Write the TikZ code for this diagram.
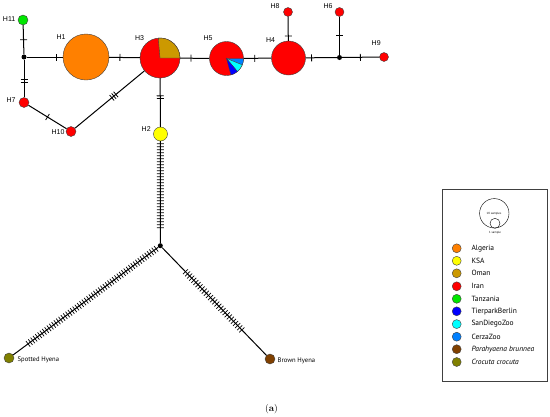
\documentclass[tikz,border=0pt]{standalone}
\usepackage{fontspec}
\newfontfamily\hfont{Liberation Sans}
\newfontfamily\lfont{PT Sans}
\usetikzlibrary{decorations.markings}
\definecolor{cAlg}{RGB}{255,128,0}
\definecolor{cKSA}{RGB}{255,255,0}
\definecolor{cOman}{RGB}{204,153,0}
\definecolor{cIran}{RGB}{255,0,0}
\definecolor{cTan}{RGB}{0,230,0}
\definecolor{cTier}{RGB}{0,0,255}
\definecolor{cSan}{RGB}{0,255,255}
\definecolor{cCer}{RGB}{0,128,255}
\definecolor{cPara}{RGB}{128,64,0}
\definecolor{cCroc}{RGB}{128,128,0}
\tikzset{
  hap/.style={circle, draw=black!75, line width=0.4pt, inner sep=0pt, minimum size=#1},
  junc/.style={circle, fill=black, inner sep=0pt, minimum size=5pt},
  edge/.style={line width=1pt, black},
  hlab/.style={font=\hfont\fontsize{7}{8}\selectfont, inner sep=0pt},
  llab/.style={font=\lfont\fontsize{6.6}{8}\selectfont, inner sep=0pt, anchor=west},
  leglab/.style={font=\lfont\fontsize{7.5}{9}\selectfont, inner sep=0pt, anchor=west},
  tk/.style={postaction={decorate}, decoration={markings, mark=at position #1 with {\draw[line width=0.8pt] (0,-3.5pt)--(0,3.5pt);}}},
  tkk/.style={postaction={decorate}, decoration={markings, mark=at position #1 with {\draw[line width=0.8pt] (-1.3pt,-3.5pt)--(-1.3pt,3.5pt) (1.3pt,-3.5pt)--(1.3pt,3.5pt);}}},
  tkkk/.style={postaction={decorate}, decoration={markings, mark=at position #1 with {\draw[line width=0.8pt] (-2.6pt,-3.5pt)--(-2.6pt,3.5pt) (0pt,-3.5pt)--(0pt,3.5pt) (2.6pt,-3.5pt)--(2.6pt,3.5pt);}}},
  tkmany/.style n args={3}{postaction={decorate}, decoration={markings, mark=between positions #1 and #2 step #3 with {\draw[line width=0.7pt] (0,-3.5pt)--(0,3.5pt);}}}
}
\begin{document}
\begin{tikzpicture}[x=1pt,y=-1pt]
\useasboundingbox (0,0) rectangle (550,416);
\fill[white] (0,0) rectangle (550,416);
% haplotype nodes
\node[hap=10pt, fill=cTan] (H11) at (23,20) {};
\node[junc] (J1) at (24,57) {};
\node[hap=46pt, fill=cAlg] (H1) at (86,57) {};
\node[hap=40pt, fill=cIran] (H3) at (160,58) {};
\node[hap=34pt, fill=cIran] (H5) at (226.5,58.5) {};
\node[hap=34pt, fill=cIran] (H4) at (288.5,58) {};
\node[hap=9pt, fill=cIran] (H8) at (288,12) {};
\node[hap=9pt, fill=cIran] (H6) at (339.5,12) {};
\node[junc] (J2) at (339.5,57.5) {};
\node[hap=9pt, fill=cIran] (H9) at (384,57) {};
\node[hap=10pt, fill=cIran] (H7) at (24,102.5) {};
\node[hap=10pt, fill=cIran] (H10) at (71,131.5) {};
\node[hap=14pt, fill=cKSA] (H2) at (160.5,134) {};
\node[junc] (J3) at (160.3,245.7) {};
\node[hap=10pt, fill=cCroc] (SH) at (9,358) {};
\node[hap=10pt, fill=cPara] (BH) at (270,359) {};
% pie wedges
\filldraw[fill=cOman, draw=black!75, line width=0.4pt] (H3.center) -- ++(0:20) arc[start angle=0, end angle=-95, radius=20] -- cycle;
\filldraw[fill=cCer, draw=black!75, line width=0.3pt] (H5.center) -- ++(0:17) arc[start angle=0, end angle=22, radius=17] -- cycle;
\filldraw[fill=cSan, draw=black!75, line width=0.3pt] (H5.center) -- ++(22:17) arc[start angle=22, end angle=50, radius=17] -- cycle;
\filldraw[fill=cTier, draw=black!75, line width=0.3pt] (H5.center) -- ++(50:17) arc[start angle=50, end angle=75, radius=17] -- cycle;
% edges
\draw[edge, tk=0.5] (H11) -- (J1);
\draw[edge, tk=0.81] (J1) -- (H1);
\draw[edge, tk=0.35] (H1) -- (H3);
\draw[edge, tk=0.37] (H3) -- (H5);
\draw[edge, tk=0.4] (H5) -- (H4);
\draw[edge, tk=0.19] (H4) -- (J2);
\draw[edge, tk=0.8] (H8) -- (H4);
\draw[edge, tk=0.48] (H6) -- (J2);
\draw[edge, tk=0.49] (J2) -- (H9);
\draw[edge, tkk=0.56] (J1) -- (H7);
\draw[edge, tk=0.5] (H7) -- (H10);
\draw[edge, tkkk=0.56] (H10) -- (H3);
\draw[edge, tkk=0.39] (H3) -- (H2);
\draw[edge, tkmany={2.5pt}{89pt}{3pt}] (H2) -- (J3);
\draw[edge, tkmany={2.5pt}{164pt}{2.9pt}] (J3) -- (SH);
\draw[edge, tkmany={33.5pt}{115pt}{3pt}] (J3) -- (BH);
% labels
\node[hlab, anchor=east] (lH11) at (15.5,19) {H11};
\node[hlab] (lH1) at (61,37.3) {H1};
\node[hlab] (lH3) at (139.5,38.3) {H3};
\node[hlab] (lH5) at (208,38.3) {H5};
\node[hlab] (lH4) at (270.5,40) {H4};
\node[hlab] (lH8) at (275,6) {H8};
\node[hlab] (lH6) at (328,6) {H6};
\node[hlab] (lH9) at (376.2,43.3) {H9};
\node[hlab] (lH7) at (11,100.5) {H7};
\node[hlab] (lH10) at (58,132.3) {H10};
\node[hlab] (lH2) at (146.2,129) {H2};
\node[llab] (lSH) at (17.5,360) {Spotted Hyena};
\node[llab] (lBH) at (277.5,360.5) {Brown Hyena};
% legend
\node[draw=black!75, line width=0.6pt, minimum width=105pt, minimum height=192pt, inner sep=0pt] (leg) at (494.8,285) {};
\node[circle, draw=black, line width=0.4pt, minimum size=29.4pt, inner sep=0pt] (big) at (494.3,213.3) {};
\node[circle, draw=black, line width=0.4pt, minimum size=10pt, inner sep=0pt] (small) at (495,223.3) {};
\node[font=\lfont\fontsize{3}{3}\selectfont, inner sep=0pt] (t10) at (494,213.3) {10 samples};
\node[font=\lfont\fontsize{3}{3}\selectfont, inner sep=0pt] (t1) at (495,232.5) {1 sample};
\foreach \c/\t/\y/\n in {cAlg/Algeria/248.3/a, cKSA/KSA/260.8/b, cOman/Oman/273.3/c, cIran/Iran/286.3/d, cTan/Tanzania/298.8/e, cTier/TierparkBerlin/311.3/f, cSan/SanDiegoZoo/324.1/g, cCer/CerzaZoo/336.7/h, cPara/{\itshape Parahyaena brunnea}/349.2/i, cCroc/{\itshape Crocuta crocuta}/362/j}{
  \node[hap=9pt, fill=\c] (d\n) at (456.7,\y) {};
  \node[leglab] (l\n) at (471.3,\y) {\t};
}
\node[font=\fontsize{9.5}{11}\selectfont, inner sep=0pt] (cap) at (271.5,409) {(\textbf{a})};
\end{tikzpicture}
\end{document}
